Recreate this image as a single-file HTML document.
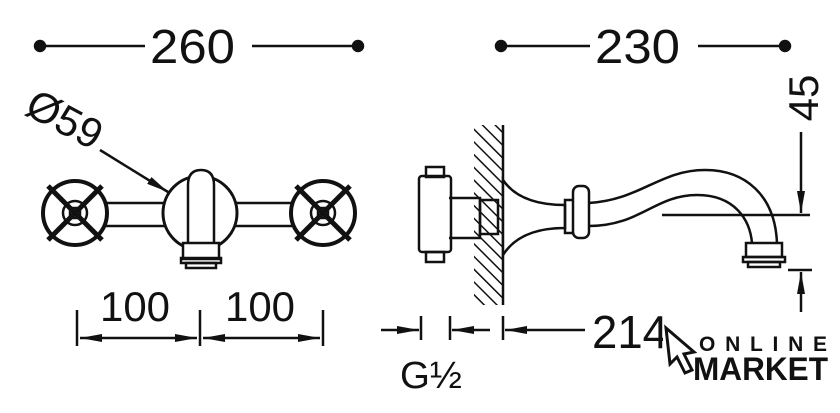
<!DOCTYPE html>
<html><head><style>
body{margin:0;background:#fff;}
svg{display:block}
text{font-family:"Liberation Sans",sans-serif;fill:#111}
</style></head><body>
<svg width="840" height="413" viewBox="0 0 840 413" xmlns="http://www.w3.org/2000/svg">
<defs>
<marker id="b" viewBox="0 0 10 10" refX="10" refY="5" markerWidth="22" markerHeight="8" markerUnits="userSpaceOnUse" orient="auto-start-reverse" preserveAspectRatio="none"><path d="M0,0L10,5L0,10z" fill="#111"/></marker>
<pattern id="h" width="9" height="9" patternUnits="userSpaceOnUse" patternTransform="rotate(-45)"><line x1="0" y1="0" x2="0" y2="9" stroke="#111" stroke-width="3"/></pattern>
</defs>
<g stroke="#111" stroke-width="2.5" fill="none">
<circle cx="40" cy="46" r="5" fill="#111"/><line x1="40" y1="46" x2="145" y2="46"/>
<line x1="252" y1="46" x2="358" y2="46"/><circle cx="358" cy="46" r="5" fill="#111"/>
<circle cx="501" cy="46" r="5" fill="#111"/><line x1="501" y1="46" x2="590" y2="46"/>
<line x1="698" y1="46" x2="785" y2="46"/><circle cx="785" cy="46" r="5" fill="#111"/>

<path d="M105,203 H165 M105,226 H165 M235,203 H292 M235,226 H292"/>
<circle cx="200" cy="213" r="37" stroke-width="3"/>
<path d="M188,243 V185 Q188,170 201,170 Q214,170 214,185 V243" fill="#fff"/>
<rect x="183" y="243" width="36" height="16" fill="#fff"/>
<rect x="181" y="258" width="40" height="5"/>
<rect x="186" y="263" width="30" height="5"/>
<g id="hd">
<circle cx="75" cy="213" r="32" stroke-width="4"/>
<circle cx="75" cy="213" r="12"/>
<rect x="70" y="208" width="10" height="10"/>
<path d="M48,186 L102,240 M102,186 L48,240" stroke-width="5"/>
</g>
<use href="#hd" x="248"/>
<line x1="100" y1="150" x2="168" y2="192" marker-end="url(#b)"/>

<path d="M77,310 V346 M200,310 V346 M323,310 V346"/>
<line x1="80" y1="338" x2="197" y2="338" marker-start="url(#b)" marker-end="url(#b)"/>
<line x1="203" y1="338" x2="320" y2="338" marker-start="url(#b)" marker-end="url(#b)"/>

<rect x="474" y="125" width="29" height="180" fill="url(#h)" stroke="none"/>
<line x1="503" y1="125" x2="503" y2="305"/>
<rect x="419" y="176" width="32" height="76" rx="3" fill="#fff"/>
<rect x="426" y="167" width="18" height="10"/><rect x="426" y="252" width="18" height="10"/>
<path d="M449,198 H480 V238 H449"/>
<rect x="480" y="200" width="18" height="34"/>
<path d="M503,180 Q520,205 565,205 V228 Q520,228 503,255 Z" fill="#fff"/>
<rect x="565" y="200" width="10" height="33"/>
<rect x="573" y="186" width="16" height="52" rx="6" fill="#fff"/>
<path d="M589,203 C640,200 660,170 705,170 C745,170 775,195 777,243"/>
<path d="M589,226 C640,226 655,195 697,195 C735,195 750,220 752,243"/>
<rect x="746" y="243" width="36" height="14"/>
<rect x="743" y="257" width="42" height="5"/>
<rect x="748" y="262" width="32" height="5"/>
<line x1="662" y1="215" x2="810" y2="215"/>
<line x1="801" y1="132" x2="801" y2="213" marker-end="url(#b)"/>
<line x1="788" y1="270" x2="812" y2="270"/>
<line x1="801" y1="312" x2="801" y2="272" marker-end="url(#b)"/>
<path d="M421,316 V340 M450,316 V340 M503,316 V340"/>
<line x1="381" y1="330" x2="419" y2="330" marker-end="url(#b)"/>
<line x1="490" y1="330" x2="452" y2="330" marker-end="url(#b)"/>
<line x1="585" y1="330" x2="505" y2="330" marker-end="url(#b)"/>
</g>
<text x="150" y="63" font-size="48" textLength="85" lengthAdjust="spacingAndGlyphs">260</text>
<text x="595" y="63" font-size="48" textLength="85" lengthAdjust="spacingAndGlyphs">230</text>
<text x="100" y="321" font-size="42" textLength="70" lengthAdjust="spacingAndGlyphs">100</text>
<text x="225" y="321" font-size="42" textLength="70" lengthAdjust="spacingAndGlyphs">100</text>
<text x="592" y="348" font-size="46" textLength="76" lengthAdjust="spacingAndGlyphs">214</text>
<text x="400" y="388" font-size="38" textLength="62" lengthAdjust="spacingAndGlyphs">G½</text>
<text transform="translate(818,98) rotate(-90)" font-size="42" text-anchor="middle">45</text>
<text transform="translate(58,132) rotate(28)" font-size="42" text-anchor="middle">Ø59</text>
<rect x="663" y="323" width="172" height="60" fill="#fff"/>
<path d="M666,328 L694,352 L684,354 L692,370 L685,373 L677,357 L670,364 Z" fill="#fff" stroke="#111" stroke-width="3"/>
<text x="699" y="351" font-size="21" font-weight="bold" textLength="128" lengthAdjust="spacing">ONLINE</text>
<text x="693" y="380" font-size="32" font-weight="bold" textLength="135" lengthAdjust="spacingAndGlyphs">MARKET</text>
</svg>
</body></html>
